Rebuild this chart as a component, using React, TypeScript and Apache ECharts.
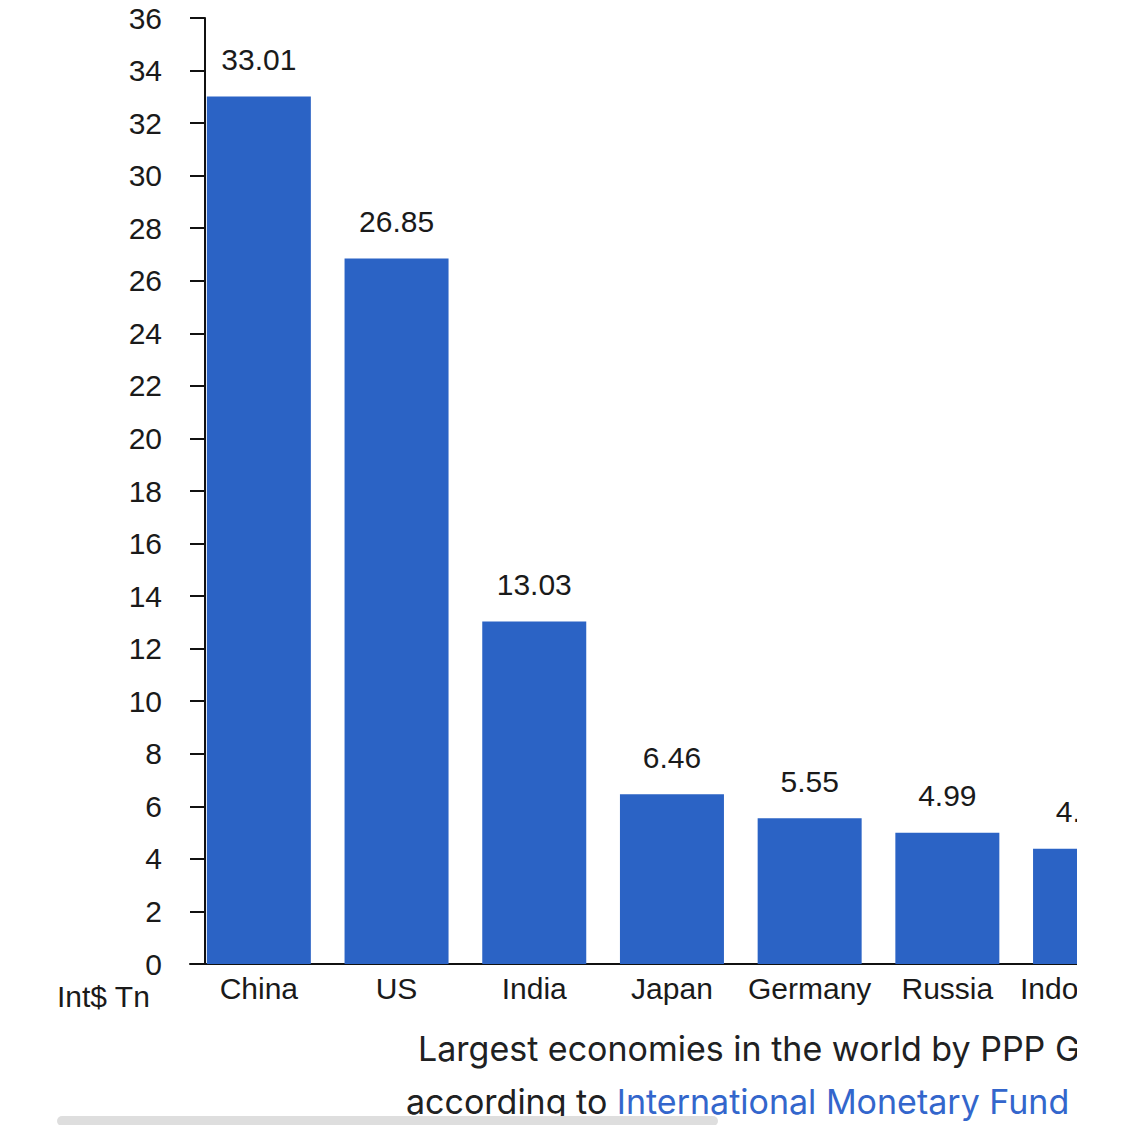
import React, { useEffect, useRef } from "react";
import * as echarts from "echarts";

const categories = ["China", "US", "India", "Japan", "Germany", "Russia", "Indonesia"];
const values = [33.01, 26.85, 13.03, 6.46, 5.55, 4.99, 4.39];
const yMin = 0;
const yMax = 36;
const yStep = 2;
const unitLabel = "Int$ Tn";
const captionLine1 = "Largest economies in the world by PPP GDP";
const captionPrefix = "according to ";
const captionLink = "International Monetary Fund";
const captionSuffix = " (";

const FONT = '"Liberation Sans", Arial, Helvetica, sans-serif';
const CAPTION_FONT = 'Inter, "Noto Sans", sans-serif';

export default function App() {
  const ref = useRef<HTMLDivElement>(null);

  useEffect(() => {
    if (!ref.current) return;
    const chart = echarts.init(ref.current, undefined, { renderer: "svg" });
    const chartWidth = 1400;
    const plotRight = 190 + 7 * 137.7;
    chart.setOption({
      animation: false,
      backgroundColor: "#ffffff",
      grid: {
        left: 190,
        top: 18,
        bottom: 1125 - 964,
        right: chartWidth - plotRight,
        containLabel: false,
      },
      xAxis: {
        type: "category",
        data: categories,
        boundaryGap: true,
        axisLine: { show: true, lineStyle: { color: "#111111", width: 2 } },
        axisTick: { show: false },
        axisLabel: {
          color: "#1a1a1a",
          fontFamily: FONT,
          fontSize: 30,
          margin: 9,
          interval: 0,
        },
        splitLine: { show: false },
      },
      yAxis: {
        type: "value",
        min: yMin,
        max: yMax,
        interval: yStep,
        offset: -15,
        axisLine: { show: true, lineStyle: { color: "#111111", width: 2 } },
        axisTick: { show: true, length: 15, lineStyle: { color: "#111111", width: 2 } },
        axisLabel: {
          color: "#1a1a1a",
          fontFamily: FONT,
          fontSize: 30,
          margin: 43,
        },
        splitLine: { show: false },
      },
      series: [
        {
          type: "bar",
          data: values,
          barWidth: 104,
          itemStyle: { color: "#2b63c5" },
          label: {
            show: true,
            position: "top",
            distance: 22,
            color: "#1a1a1a",
            fontFamily: FONT,
            fontSize: 30,
            formatter: (p: any) => p.value.toFixed(2),
          },
        },
      ],
      graphic: [
        {
          type: "text",
          x: 57,
          y: 996,
          style: {
            text: unitLabel,
            fill: "#1a1a1a",
            font: `30px ${FONT}`,
            verticalAlign: "middle",
          },
        },
        {
          type: "text",
          x: 418,
          y: 1048,
          style: {
            text: captionLine1,
            fill: "#202122",
            font: `34px ${CAPTION_FONT}`,
            verticalAlign: "middle",
          },
        },
        {
          type: "text",
          x: 406,
          y: 1101,
          style: {
            text: `${captionPrefix}{link|${captionLink}}${captionSuffix}`,
            fill: "#202122",
            font: `34px ${CAPTION_FONT}`,
            verticalAlign: "middle",
            rich: {
              link: {
                fill: "#3366cc",
                font: `34px ${CAPTION_FONT}`,
              },
            },
          },
        },
        {
          type: "rect",
          shape: { x: 57, y: 1116, width: 661, height: 10, r: 5 },
          style: { fill: "#dedede" },
        },
      ],
    });
    return () => chart.dispose();
  }, []);

  return (
    <div
      style={{
        position: "fixed",
        left: 0,
        top: 0,
        width: 1125,
        height: 1125,
        background: "#ffffff",
      }}
    >
      <div style={{ width: 1077, height: 1125, overflow: "hidden", position: "relative" }}>
        <div ref={ref} style={{ width: 1400, height: 1125 }} />
      </div>
    </div>
  );
}
